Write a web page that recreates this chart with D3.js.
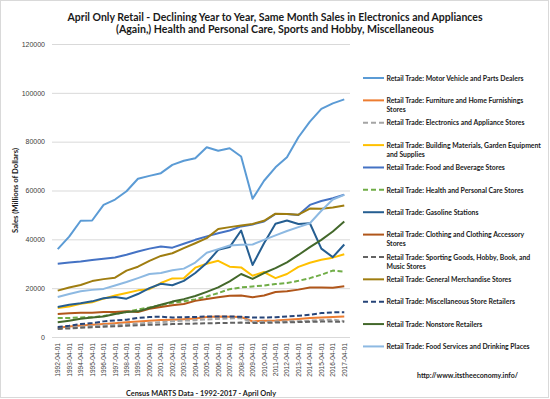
<!DOCTYPE html>
<html>
<head>
<meta charset="utf-8">
<script src="https://cdn.jsdelivr.net/npm/d3@7"></script>
<style>
  body { margin: 0; background: #fff; }
  svg { display: block; font-family: Lato, "Liberation Sans", sans-serif; }
</style>
</head>
<body>
<svg id="chart" width="550" height="399"></svg>
<script>
// April values, millions of dollars, 1992 - 2017
const years = d3.range(1992, 2018).map(y => `${y}-04-01`);
const yTicks = [0, 20000, 40000, 60000, 80000, 100000, 120000];

const motorVehicle = [36000, 41100, 47600, 47700, 54100, 56300, 59700, 64800, 66000, 67100, 70500, 72200, 73200, 77700, 76300, 77300, 73900, 56600, 64000, 69500, 73600, 81800, 88200, 93400, 95700, 97300];
const furniture = [3800, 4300, 4700, 5000, 5300, 5600, 6000, 6300, 6700, 7000, 7100, 7300, 7600, 8200, 8400, 8300, 8200, 6400, 6700, 6800, 7100, 7400, 7800, 8000, 8200, 8400];
const electronics = [3600, 3900, 4200, 4500, 4800, 5000, 5300, 5500, 5800, 6100, 6400, 6700, 6900, 7200, 7400, 7600, 7700, 6100, 6200, 6300, 6400, 6500, 6700, 7000, 7100, 6500];
const building = [11900, 12500, 13600, 14200, 15700, 17000, 18000, 19100, 19600, 22100, 24000, 24100, 28400, 30000, 31200, 28800, 28500, 25100, 26600, 24100, 25800, 28700, 30400, 31600, 32500, 33900];
const foodBev = [30000, 30500, 30900, 31500, 32000, 32600, 33700, 35000, 36200, 37100, 36600, 38200, 39800, 41200, 42500, 43600, 45300, 46100, 47300, 50400, 50400, 50000, 54100, 55700, 56800, 58300];
const health = [7800, 7800, 8000, 8100, 8600, 9500, 10200, 11300, 12100, 13000, 14000, 14600, 15400, 16600, 18000, 19600, 20300, 20700, 21100, 21700, 22100, 23000, 24100, 25500, 27200, 26800];
const gasoline = [12300, 13200, 13800, 14600, 15900, 16400, 15700, 17600, 20000, 21800, 21200, 23000, 26200, 30300, 35700, 36800, 43600, 29500, 38400, 46400, 47700, 46300, 46600, 36200, 32700, 37900];
const clothing = [9400, 9700, 9900, 9900, 10200, 10200, 10500, 10200, 11600, 12300, 13000, 13500, 14800, 15600, 16300, 16900, 17000, 16300, 17000, 18400, 18700, 19400, 20300, 20300, 20200, 20800];
const sporting = [3300, 3500, 3800, 4000, 4200, 4400, 4600, 4800, 5000, 5100, 5300, 5400, 5500, 5600, 5700, 5800, 5900, 5700, 5800, 5900, 6000, 6100, 6200, 6300, 6300, 6200];
const generalMerch = [19000, 20300, 21300, 22900, 23700, 24300, 27200, 28800, 31200, 33200, 34300, 36400, 38400, 40500, 44200, 45000, 45700, 46300, 47600, 50500, 50400, 50100, 52600, 52500, 53000, 53900];
const misc = [4100, 4600, 5300, 5700, 6400, 6800, 7100, 7800, 8200, 8300, 8000, 8100, 8200, 8400, 8400, 8400, 8300, 8000, 8000, 8100, 8400, 8700, 9100, 9800, 10100, 10100];
const nonstore = [6000, 6700, 7500, 8000, 8400, 9400, 10200, 10500, 11900, 13200, 14500, 15500, 16800, 18500, 20300, 22800, 25800, 23800, 26200, 28200, 30600, 33600, 36800, 39800, 43200, 47300];
const foodServices = [16400, 17600, 18700, 19300, 19700, 21100, 22500, 24100, 25800, 26200, 27300, 28000, 30500, 34500, 36000, 37500, 37800, 37900, 39800, 41600, 43400, 45000, 46600, 51700, 56300, 58200];

// legend text is split where the reference wraps it
const series = [
  { name: ['Retail Trade: Motor Vehicle and Parts Dealers'], values: motorVehicle, color: '#5B9BD5' },
  { name: ['Retail Trade: Furniture and Home Furnishings', 'Stores'], values: furniture, color: '#ED7D31' },
  { name: ['Retail Trade: Electronics and Appliance Stores'], values: electronics, color: '#A5A5A5', dash: true },
  { name: ['Retail Trade: Building Materials, Garden Equipment', 'and Supplies'], values: building, color: '#FFC000' },
  { name: ['Retail Trade: Food and Beverage Stores'], values: foodBev, color: '#4472C4' },
  { name: ['Retail Trade: Health and Personal Care Stores'], values: health, color: '#70AD47', dash: true },
  { name: ['Retail Trade: Gasoline Stations'], values: gasoline, color: '#255E91' },
  { name: ['Retail Trade: Clothing and Clothing Accessory', 'Stores'], values: clothing, color: '#B0561A' },
  { name: ['Retail Trade: Sporting Goods, Hobby, Book, and', 'Music Stores'], values: sporting, color: '#636363', dash: true },
  { name: ['Retail Trade: General Merchandise Stores'], values: generalMerch, color: '#9F7D10' },
  { name: ['Retail Trade: Miscellaneous Store Retailers'], values: misc, color: '#264478', dash: true },
  { name: ['Retail Trade: Nonstore Retailers'], values: nonstore, color: '#43682B' },
  { name: ['Retail Trade: Food Services and Drinking Places'], values: foodServices, color: '#8DB9E2' }
];

const svg = d3.select('#chart');

// outer chart border
svg.append('rect')
  .attr('x', 0.5).attr('y', 0.5)
  .attr('width', 548).attr('height', 397)
  .attr('fill', '#fff').attr('stroke', '#D9D9D9');

// squeeze a text to a given width, like the narrow Calibri of the original
function fit(sel, w) {
  sel.attr('textLength', w).attr('lengthAdjust', 'spacingAndGlyphs');
}

const x = d3.scaleBand().domain(years).range([52, 350]);
const y = d3.scaleLinear().domain([0, 120000]).range([337, 44]);
const cx = d => x(d) + x.bandwidth() / 2;

// gridlines + y labels
const yAxis = svg.append('g')
  .attr('transform', 'translate(52,0)')
  .call(d3.axisLeft(y).tickValues(yTicks).tickSize(-298).tickFormat(d3.format('d')).tickPadding(7));
yAxis.select('.domain').remove();
yAxis.selectAll('line').attr('stroke', '#D9D9D9').attr('stroke-width', 1);
yAxis.selectAll('text')
  .attr('fill', '#404040')
  .style('font-size', '7px')
  .style('font-family', '"Liberation Sans", sans-serif');

// x labels, rotated
const xAxis = svg.append('g')
  .attr('transform', 'translate(0,337)')
  .call(d3.axisBottom(x).tickSize(0).tickPadding(0));
xAxis.select('.domain').remove();
xAxis.selectAll('text')
  .attr('fill', '#404040')
  .style('font-size', '6.6px')
  .style('font-family', '"Liberation Sans", sans-serif')
  .attr('text-anchor', 'end')
  .attr('dy', null)
  .attr('transform', 'translate(2.5,6) rotate(-90)');

// series lines
const line = d3.line()
  .x((d, i) => cx(years[i]))
  .y(d => y(d));

svg.append('g').selectAll('path')
  .data(series)
  .join('path')
  .attr('d', d => line(d.values))
  .attr('fill', 'none')
  .attr('stroke', d => d.color)
  .attr('stroke-width', 2)
  .attr('stroke-linejoin', 'round')
  .attr('stroke-dasharray', d => d.dash ? '5,2.5' : null);

// titles
const title = svg.append('g')
  .attr('font-weight', 'bold')
  .attr('font-size', '11px')
  .attr('fill', '#1a1a1a')
  .attr('text-anchor', 'middle');
fit(title.append('text').attr('x', 275).attr('y', 20.5)
  .text('April Only Retail - Declining Year to Year, Same Month Sales in Electronics and Appliances'), 415);
fit(title.append('text').attr('x', 275).attr('y', 33)
  .text('(Again,) Health and Personal Care, Sports and Hobby, Miscellaneous'), 318);

fit(svg.append('text')
  .attr('transform', 'translate(17.5,190.5) rotate(-90)')
  .attr('text-anchor', 'middle')
  .attr('font-weight', 'bold').attr('font-size', '8px').attr('fill', '#1a1a1a')
  .text('Sales (Millions of Dollars)'), 85);

fit(svg.append('text')
  .attr('x', 201).attr('y', 396)
  .attr('text-anchor', 'middle')
  .attr('font-weight', 'bold').attr('font-size', '8px').attr('fill', '#1a1a1a')
  .text('Census MARTS  Data - 1992-2017 - April Only'), 150);

// legend
const legend = svg.append('g')
  .attr('font-weight', 'bold')
  .attr('font-size', '7.3px')
  .attr('fill', '#1a1a1a');

const rows = legend.selectAll('g')
  .data(series)
  .join('g')
  .attr('transform', (d, i) => `translate(363,${78 + i * 22.37})`);

rows.append('line')
  .attr('x1', 0).attr('x2', 21)
  .attr('stroke', d => d.color)
  .attr('stroke-width', 2)
  .attr('stroke-dasharray', d => d.dash ? '5,3' : null);

const labels = rows.selectAll('text')
  .data(d => d.name)
  .join('text')
  .attr('x', 23.5)
  .attr('y', (d, j) => 2.7 + j * 9)
  .text(d => d);

// first label spans 386..523 in the reference; scale every label the same way
const ratio = 137 / labels.node().getComputedTextLength();
labels.each(function () {
  const t = d3.select(this);
  fit(t, this.getComputedTextLength() * ratio);
});

const url = legend.append('text')
  .attr('x', 417).attr('y', 377.5)
  .text('http://www.itstheeconomy.info/');
fit(url, 101);
</script>
</body>
</html>
